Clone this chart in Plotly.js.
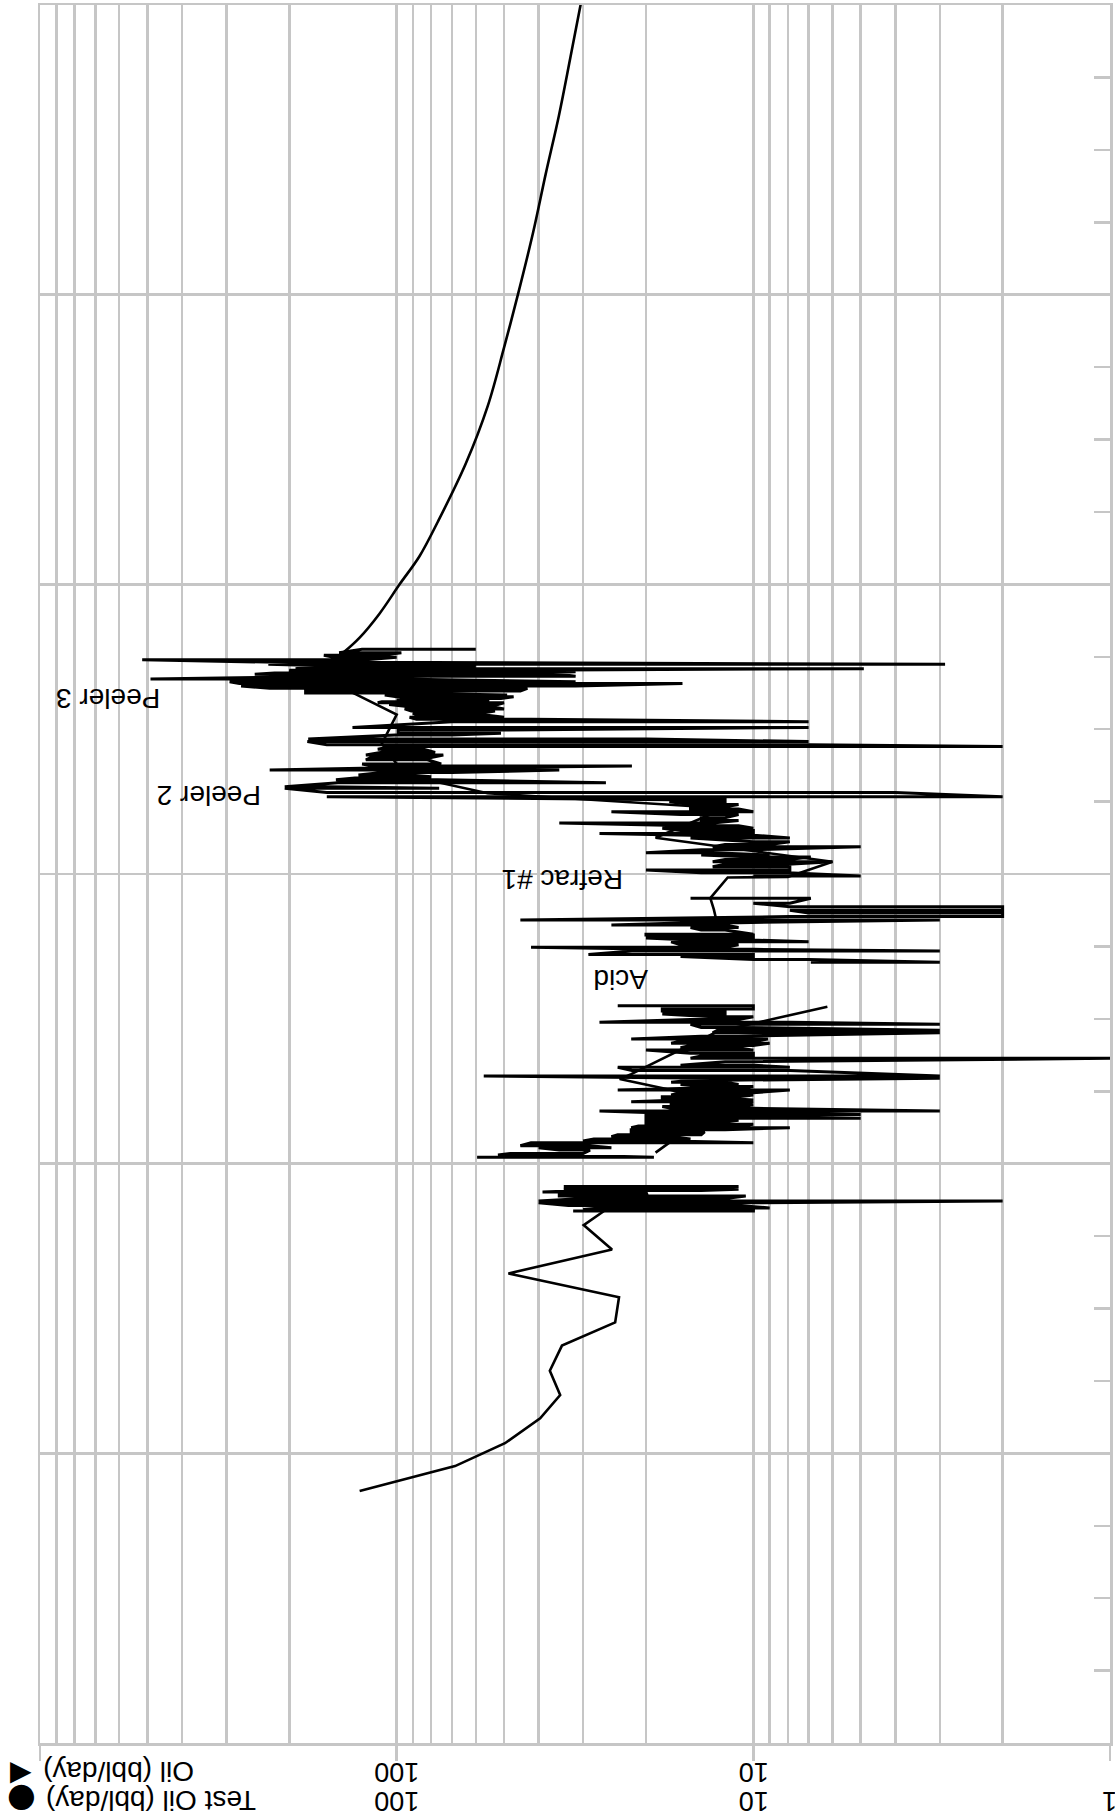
<!DOCTYPE html>
<html>
<head>
<meta charset="utf-8">
<script src="https://cdn.plot.ly/plotly-3.0.1.min.js"></script>
<style>
  html, body { margin: 0; padding: 0; background: #ffffff; }
  #chart { width: 1115px; height: 1817px; }
</style>
</head>
<body>
<div id="chart"></div>
<script>
// ---- Daily oil spikes, per period: time (years from start), upper rate, lower rate (bbl/day) ----
const timeE = [1.837,1.842,1.847,1.856,1.865,1.871,1.880,1.888,1.895,1.902,1.907,1.912,1.917,1.921];
const highE = [32,30,27,33,40,40,30,35,35,39,30,34,30,34];
const lowE  = [9.9,12,9,11,10,2,12,10.5,19.9,20,14,11,13,11];

const timeD1 = [2.022,2.030,2.035,2.047,2.055,2.062,2.072,2.078,2.085,2.093,2.100,2.110,2.117,2.124,2.130,2.136,2.145,2.150,2.157,2.163,2.170,2.176,2.182,2.191,2.197,2.203,2.208,2.214,2.220,2.226,2.231,2.237,2.245,2.254,2.260,2.266,2.273,2.281,2.288,2.295,2.303];
const highD1 = [59.5,52,48,35,40,45,42,30,28,25,24,22,22,22,21,20,20,20,20,20,20,19,27,17,18,17,17,22,16,18,18,17,16,24,15,14,16,17,15,13,57];
const lowD1  = [19,34,30,28.7,25,28.7,10,17,15,17,14,13.7,12,7.9,11,10,12,11,5,10,5,11,3,10,11,10,11,10,10,12,11,10,10,7.9,11,10,11,12,12,3,3];

const timeD2 = [2.322,2.333,2.340,2.352,2.364,2.372,2.381,2.392,2.400,2.408,2.416,2.423,2.430,2.440,2.452,2.461,2.470,2.481,2.488,2.498,2.507,2.517,2.527,2.534,2.545];
const highD2 = [21.9,24,16,12,15,14,15,20,16,15,17,16,22,14,13,12.6,14,15,27,15,13,18,18,18,24];
const lowD2  = [7.9,7.9,10,10,1,10,10,10,11,10,9,10,9.1,11,3,3,11,3,7.9,11,10,12,12,10,10];

const timeC = [2.695,2.705,2.715,2.722,2.734,2.740,2.747,2.756,2.766,2.772,2.779,2.789,2.792,2.807,2.815,2.824,2.832,2.841,2.853,2.865,2.875,2.887,2.899,2.916];
const highC = [6.9,10,16,29,21.9,18,42,16,17,15,20,20,20,14,15,25,15,45,7.9,7,7.9,7.9,10,15];
const lowC  = [3,7,10,10,3,10,12,11,7,10,10,10,10,12,11,12,11,3,2,2,2,2,7.9,6.9];

const timeB1 = [2.993,3.004,3.014,3.025,3.034,3.042,3.050,3.059,3.066,3.073,3.084,3.094,3.102,3.111,3.124,3.134,3.140,3.150,3.158,3.167,3.176,3.185,3.194,3.205,3.215,3.224,3.232,3.240,3.249,3.256,3.267,3.281];
const highB1 = [10,14,20,13,12,13,12,10,14,20,14,13,12,10,15,15,27,16,18,15,35,14,14,16,25,15,15,15,17.2,17,157,157];
const lowB1  = [5,8,7.9,7.9,8,6,8,6.9,9,13,10,5,9,7.9,7.9,10,10,10,10,11,13,11,12,11,10,11,12,11,12,12,2,4];

const timeB2 = [3.296,3.301,3.315,3.325,3.336,3.342,3.350,3.359,3.366,3.373,3.380,3.394,3.402,3.411,3.420,3.431,3.440,3.446,3.457,3.466,3.480,3.486,3.497,3.506,3.526,3.534,3.541,3.549,3.555,3.563,3.570,3.577,3.585,3.591,3.595,3.600,3.606,3.612,3.618,3.625,3.632,3.641,3.649,3.658,3.664,3.673,3.683,3.690,3.694,3.698,3.703,3.709,3.714,3.720,3.724,3.730,3.740,3.748,3.755,3.764,3.776];
const highB2 = [206,206,146,148,120,128,110,227,115,117,125,122,118,122,110,113,103.5,157,178,177,101,99,99,133,70,88,92,88,90,91,95,92,105,113,110,100,91,100,108,180,180,227,273,276,294,490,145,250,220,194,200,192,180,170,229,200,517,150,160,145,125];
const lowB2  = [76,157,25.9,77,80,92,70,35,85,21.9,75,82,80,74,78,84,2,7,7,19.9,70,51,49,7,7,42,50,56.5,58,53,50,54,52,50,60,55,51,47,49,101,45,43,31.5,15.8,31.5,101,31.5,35,40,31.5,60,4.9,60,70,2.9,80,122,100,110,97,60];

// ---- Test oil (time, rate); null = gap ----
const testTime = [0.870,0.956,1.035,1.121,1.201,1.285,1.372,1.452,1.539,1.621,1.704,1.788,1.834,1.872,null,
  2.038,2.202,2.254,2.292,2.309,2.456,2.542,null,
  2.841,2.877,2.917,2.988,2.990,3.042,3.125,3.227,3.279,3.342,3.450,3.550,3.620,3.687];
const testRate = [127,68.6,49.7,39.6,34.8,37.2,34.4,24.4,23.8,48.6,24.9,29.9,26.4,24,null,
  18.8,12.3,17,23.7,22,12.6,6.2,null,
  12.7,12.9,13.2,11.8,8,6.0,18.8,12,55.6,95,110,100,130,171];

// ---- Decline curve (time, rate) ----
const declTime = [3.687,3.768,3.816,3.897,4.001,4.097,4.217,4.417,4.617,4.817,5.001,5.217,5.417,5.617,5.817,6.001];
const declRate = [171,140,127,112,98,86.3,76.6,64,55.5,50,45.7,41.4,38.2,35.1,32.6,30.5];

// ---- Event labels ----
const eventText = ["Peeler 3","Peeler 2","Refrac #1","Acid"];
const eventRate = [644,337,34.4,23.5];
const eventTime = [3.608,3.269,2.983,2.634];

// ---- Axis tick labels ----
const row1Vals = [100,10];
const row1Text = ["100","10"];
const row2Vals = [100,10,1];
const row2Text = ["100","10","1"];
const axisTitle1 = "Oil (bbl/day)";
const axisTitle2 = "Test Oil (bbl/day)";

// build zig-zag path for the daily series; segments separated by gaps
const segments = [
  [[timeE, highE, lowE]],
  [[timeD1, highD1, lowD1], [timeD2, highD2, lowD2]],
  [[timeC, highC, lowC]],
  [[timeB1, highB1, lowB1], [timeB2, highB2, lowB2]]
];
const oilX = [], oilY = [];
segments.forEach((seg, si) => {
  if (si > 0) { oilX.push(null); oilY.push(null); }
  let flip = false;
  seg.forEach(([t, hi, lo]) => {
    for (let i = 0; i < t.length; i++) {
      const a = flip ? lo[i] : hi[i];
      const b = flip ? hi[i] : lo[i];
      oilX.push(a, b); oilY.push(t[i], t[i]);
      flip = !flip;
    }
  });
});

const GRID = '#c6c6c6';
const FONT = 'Liberation Sans, Arial, Helvetica, sans-serif';

const traces = [
  { x: testRate, y: testTime, type: 'scatter', mode: 'lines', connectgaps: false,
    line: { color: '#000000', width: 2.6 }, hoverinfo: 'skip' },
  { x: declRate, y: declTime, type: 'scatter', mode: 'lines',
    line: { color: '#000000', width: 2.6, shape: 'spline', smoothing: 1 }, hoverinfo: 'skip' },
  { x: oilX, y: oilY, type: 'scatter', mode: 'lines', connectgaps: false,
    line: { color: '#000000', width: 3 }, hoverinfo: 'skip' }
];

const ann = [];
for (let i = 0; i < eventText.length; i++) {
  ann.push({ x: Math.log10(eventRate[i]), y: eventTime[i], xref: 'x', yref: 'y',
    xanchor: 'center', yanchor: 'middle',
    text: eventText[i], showarrow: false, textangle: 180,
    font: { family: FONT, size: 28, color: '#000' } });
}
const yRow1 = (1743 - 1772) / 1738, yRow2 = (1743 - 1801) / 1738;
for (let i = 0; i < row1Vals.length; i++) {
  ann.push({ x: Math.log10(row1Vals[i]), y: yRow1, xref: 'x', yref: 'paper', xanchor: 'center', yanchor: 'middle',
    text: row1Text[i], showarrow: false, textangle: 180, font: { family: FONT, size: 27, color: '#000' } });
}
for (let i = 0; i < row2Vals.length; i++) {
  ann.push({ x: Math.log10(row2Vals[i]), y: yRow2, xref: 'x', yref: 'paper', xanchor: 'center', yanchor: 'middle',
    text: row2Text[i], showarrow: false, textangle: 180, font: { family: FONT, size: 27, color: '#000' } });
}
ann.push({ x: (119 - 40) / 1070, y: yRow1, xref: 'paper', yref: 'paper', xanchor: 'center', yanchor: 'middle',
  text: axisTitle1, showarrow: false, textangle: 180, font: { family: FONT, size: 28, color: '#000' } });
ann.push({ x: (151 - 40) / 1070, y: yRow2, xref: 'paper', yref: 'paper', xanchor: 'center', yanchor: 'middle',
  text: axisTitle2, showarrow: false, textangle: 180, font: { family: FONT, size: 28, color: '#000' } });
ann.push({ x: (21 - 40) / 1070, y: (1743 - 1770) / 1738, xref: 'paper', yref: 'paper', xanchor: 'center', yanchor: 'middle',
  text: '▶', showarrow: false, font: { family: 'DejaVu Sans', size: 28, color: '#000' } });
ann.push({ x: (21 - 40) / 1070, y: (1743 - 1795) / 1738, xref: 'paper', yref: 'paper', xanchor: 'center', yanchor: 'middle',
  text: '●', showarrow: false, font: { family: 'DejaVu Sans', size: 33, color: '#000' } });

const layout = {
  width: 1115, height: 1817,
  margin: { l: 40, r: 5, t: 5, b: 74, pad: 0 },
  paper_bgcolor: '#ffffff', plot_bgcolor: '#ffffff',
  showlegend: false,
  font: { family: FONT, size: 27, color: '#000' },
  xaxis: {
    type: 'log', range: [3, 0], fixedrange: true,
    tickmode: 'array', tickvals: [1, 10, 100, 1000], showticklabels: false,
    ticks: 'outside', ticklen: 15, tickwidth: 2.5, tickcolor: GRID,
    showgrid: true, gridcolor: GRID, gridwidth: 2.5,
    minor: { dtick: 'D1', showgrid: true, gridcolor: GRID, gridwidth: 2.5, ticks: '' },
    showline: true, linecolor: GRID, linewidth: 2.5, mirror: true, zeroline: false
  },
  yaxis: {
    range: [0, 6], tick0: 0, dtick: 1, fixedrange: true, side: 'right',
    showticklabels: false, ticks: '',
    showgrid: true, gridcolor: GRID, gridwidth: 2.5,
    minor: { tick0: 0, dtick: 0.25, ticks: 'inside', ticklen: 16, tickwidth: 2.5, tickcolor: GRID, showgrid: false },
    showline: true, linecolor: GRID, linewidth: 2.5, mirror: true, zeroline: false
  },
  annotations: ann
};

Plotly.newPlot('chart', traces, layout, { staticPlot: true, displayModeBar: false });
</script>
</body>
</html>
